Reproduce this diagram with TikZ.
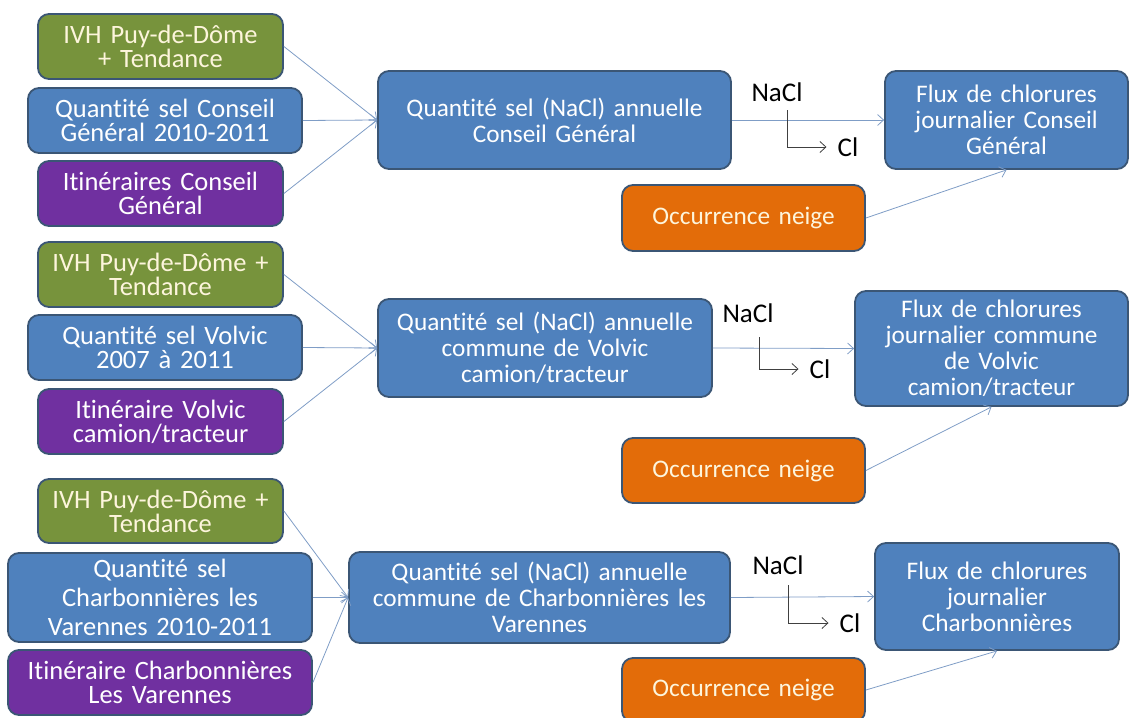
\documentclass[tikz,border=0pt]{standalone}
\usepackage{fontspec}
\setmainfont{Carlito}[Ligatures={NoCommon}]
\usetikzlibrary{arrows.meta,calc}
\definecolor{cgreen}{HTML}{77933C}
\definecolor{cblue}{HTML}{4F81BD}
\definecolor{cpurple}{HTML}{7030A0}
\definecolor{corange}{HTML}{E36C09}
\definecolor{cedge}{HTML}{3B5675}
\definecolor{cline}{HTML}{7F9DC6}
\definecolor{ccream}{HTML}{FDF5DC}
\tikzset{
  box/.style={draw=cedge, line width=1.8pt, rounded corners=11pt, align=center, inner sep=0pt,
    font=\fontsize{26.5}{24}\selectfont},
  gbox/.style={box, fill=cgreen, text=ccream},
  bbox/.style={box, fill=cblue, text=white},
  pbox/.style={box, fill=cpurple, text=white},
  obox/.style={box, fill=corange, text=ccream},
  mid/.style={font=\fontsize{25.3}{26}\selectfont},
  link/.style={draw=cline, line width=0.8pt, -{Straight Barb[length=6pt,width=11pt]}},
  chem/.style={draw=black!75, line width=0.8pt, -{Straight Barb[length=6pt,width=11pt]}},
  lab/.style={inner sep=0pt, font=\fontsize{27}{28}\selectfont, text=black},
}
\begin{document}
\begin{tikzpicture}[x=1pt,y=-1pt]
\useasboundingbox (0,0) rectangle (1131,717);
% ---------- Row 1
\node[gbox, minimum width=245pt, minimum height=65pt, text width=235pt] (g1) at (160.5,46.5) {IVH Puy-de-Dôme\\+ Tendance};
\node[bbox, minimum width=274pt, minimum height=65pt, text width=264pt] (b1) at (165,120.5) {Quantité sel Conseil\\Général 2010-2011};
\node[pbox, minimum width=245pt, minimum height=65pt, text width=235pt] (p1) at (160.5,193.5) {Itinéraires Conseil\\Général};
\node[bbox, mid, minimum width=353pt, minimum height=98pt, text width=340pt] (c1) at (554.5,120) {Quantité sel (NaCl) annuelle\\Conseil Général};
\node[bbox, mid, minimum width=243pt, minimum height=98pt, text width=233pt] (f1) at (1006.5,120) {Flux de chlorures\\journalier Conseil\\Général};
\node[obox, mid, minimum width=243pt, minimum height=66pt, text width=233pt] (o1) at (743.5,218) {Occurrence neige};
\node[lab] (n1) at (777,92) {NaCl};
\node[lab, inner xsep=11pt] (cl1) at (848,147) {Cl};
\coordinate (k1) at (787,110);
\draw[link] (g1.east) -- (c1.west);
\draw[link] (b1.east) -- (c1.west);
\draw[link] (p1.east) -- (c1.west);
\draw[link] (c1.east) -- (f1.west);
\draw[link] (o1.east) -- (f1.south);
\draw[chem] (k1) |- (cl1.west);
% ---------- Row 2
\node[gbox, minimum width=245pt, minimum height=65pt, text width=235pt] (g2) at (160.5,274.5) {IVH Puy-de-Dôme +\\Tendance};
\node[bbox, minimum width=274pt, minimum height=65pt, text width=264pt] (b2) at (165,347.5) {Quantité sel Volvic\\2007 à 2011};
\node[pbox, minimum width=245pt, minimum height=65pt, text width=235pt] (p2) at (160.5,421.5) {Itinéraire Volvic\\camion/tracteur};
\node[bbox, mid, minimum width=334pt, minimum height=98pt, text width=324pt] (c2) at (545,348) {Quantité sel (NaCl) annuelle\\commune de Volvic\\camion/tracteur};
\node[bbox, mid, minimum width=273pt, minimum height=115pt, text width=263pt] (f2) at (991.5,348.5) {Flux de chlorures\\journalier commune\\de Volvic\\camion/tracteur};
\node[obox, mid, minimum width=243pt, minimum height=65pt, text width=233pt] (o2) at (743.5,470.5) {Occurrence neige};
\node[lab] (n2) at (748,313) {NaCl};
\node[lab, inner xsep=11pt] (cl2) at (820,369) {Cl};
\coordinate (k2) at (759,337);
\draw[link] (g2.east) -- (c2.west);
\draw[link] (b2.east) -- (c2.west);
\draw[link] (p2.east) -- (c2.west);
\draw[link] (c2.east) -- (f2.west);
\draw[link] (o2.east) -- (f2.south);
\draw[chem] (k2) |- (cl2.west);
% ---------- Row 3
\node[gbox, minimum width=245pt, minimum height=64pt, text width=235pt] (g3) at (160.5,511) {IVH Puy-de-Dôme +\\Tendance};
\node[bbox, font=\fontsize{26.5}{29}\selectfont, minimum width=304pt, minimum height=89pt, text width=294pt] (b3) at (160,597.5) {Quantité sel\\Charbonnières les\\Varennes 2010-2011};
\node[pbox, minimum width=304pt, minimum height=65pt, text width=294pt] (p3) at (160,682.5) {Itinéraire Charbonnières\\Les Varennes};
\node[bbox, mid, minimum width=381pt, minimum height=91pt, text width=371pt] (c3) at (539.5,597.5) {Quantité sel (NaCl) annuelle\\commune de Charbonnières les\\Varennes};
\node[bbox, mid, minimum width=244pt, minimum height=107pt, text width=234pt] (f3) at (997,596.5) {Flux de chlorures\\journalier\\Charbonnières};
\node[obox, mid, minimum width=243pt, minimum height=64pt, text width=233pt] (o3) at (743.5,690) {Occurrence neige};
\node[lab] (n3) at (778,565) {NaCl};
\node[lab, inner xsep=11pt] (cl3) at (850,623) {Cl};
\coordinate (k3) at (788,585);
\draw[link] (g3.east) -- (c3.west);
\draw[link] (b3.east) -- (c3.west);
\draw[link] (p3.east) -- (c3.west);
\draw[link] (c3.east) -- (f3.west);
\draw[link] (o3.east) -- (f3.south);
\draw[chem] (k3) |- (cl3.west);
\end{tikzpicture}
\end{document}
